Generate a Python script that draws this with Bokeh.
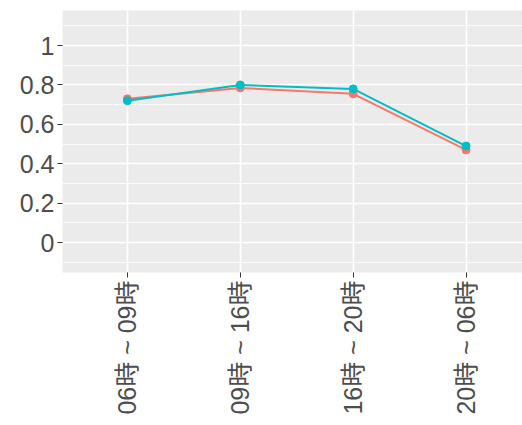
import math
from bokeh.plotting import figure
from bokeh.models import Range1d, FixedTicker, ColumnDataSource
from bokeh.embed import file_html
from bokeh.resources import INLINE

categories = ["06時 ~ 09時", "09時 ~ 16時", "16時 ~ 20時", "20時 ~ 06時"]
series_red = [0.73, 0.785, 0.755, 0.47]
series_teal = [0.72, 0.80, 0.78, 0.49]
y_ticks = [0, 0.2, 0.4, 0.6, 0.8, 1.0]
y_tick_labels = ["0", "0.2", "0.4", "0.6", "0.8", "1"]

xs = list(range(len(categories)))

p = figure(width=522, height=425, output_backend="svg", toolbar_location=None,
           x_range=Range1d(-0.575, 3.5), y_range=Range1d(-0.152, 1.178),
           min_border_left=62, min_border_right=0, min_border_top=10, min_border_bottom=153)

p.background_fill_color = "#EBEBEB"
p.border_fill_color = "white"
p.outline_line_color = None

p.xaxis.ticker = FixedTicker(ticks=xs)
p.xaxis.major_label_overrides = {i: c for i, c in enumerate(categories)}
p.yaxis.ticker = FixedTicker(ticks=y_ticks, minor_ticks=[-0.1, 0.1, 0.3, 0.5, 0.7, 0.9, 1.1])
p.yaxis.major_label_overrides = {t: l for t, l in zip(y_ticks, y_tick_labels)}

for ax in (p.xaxis, p.yaxis):
    ax.axis_line_color = None
    ax.major_tick_line_color = "#333333"
    ax.major_tick_out = 5
    ax.major_tick_in = 0
    ax.minor_tick_line_color = None
    ax.major_label_text_color = "#4D4D4D"

p.yaxis.major_label_text_font_size = "25px"
p.yaxis.major_label_text_font = "Liberation Sans"
p.xaxis.major_label_text_font_size = "25px"
p.xaxis.major_label_text_font = "Liberation Sans, Noto Sans CJK JP"

p.yaxis.major_label_standoff = 3
p.xaxis.major_label_standoff = 3
p.xaxis.major_label_orientation = math.pi / 2

p.xgrid.grid_line_color = "white"
p.xgrid.grid_line_width = 1.6
p.ygrid.grid_line_color = "white"
p.ygrid.grid_line_width = 1.6
p.ygrid.minor_grid_line_color = "white"
p.ygrid.minor_grid_line_width = 0.8

src_r = ColumnDataSource(dict(x=xs, y=series_red))
src_t = ColumnDataSource(dict(x=xs, y=series_teal))

p.line("x", "y", source=src_r, line_color="#F8766D", line_width=2)
p.scatter("x", "y", source=src_r, fill_color="#F8766D", line_color="#F8766D", size=8)
p.line("x", "y", source=src_t, line_color="#00BFC4", line_width=2)
p.scatter("x", "y", source=src_t, fill_color="#00BFC4", line_color="#00BFC4", size=8)

open("out.html", "w").write(file_html(p, INLINE))
